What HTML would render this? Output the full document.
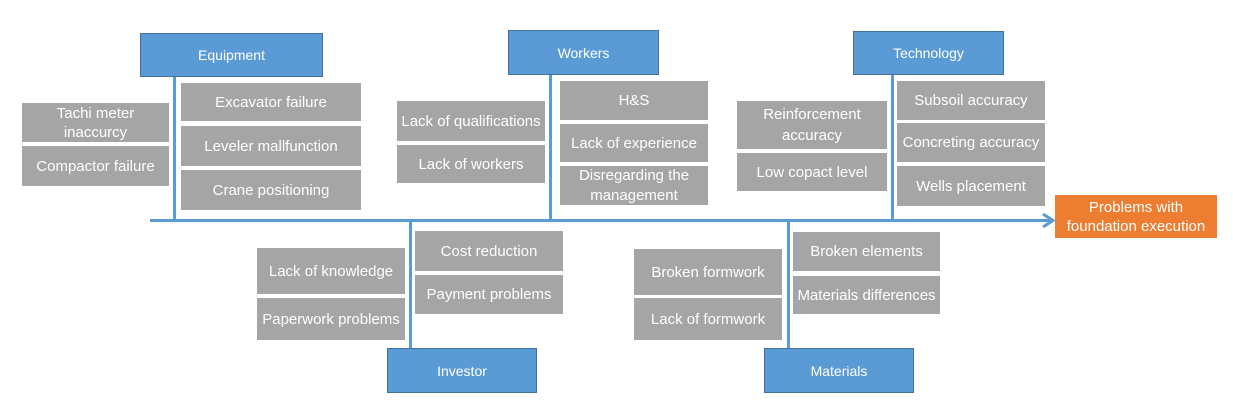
<!DOCTYPE html>
<html><head><meta charset="utf-8"><style>
body{margin:0;background:#fff;width:1233px;height:411px;position:relative;overflow:hidden;font-family:"Liberation Sans",sans-serif}
.b{position:absolute;background:#5b9bd5;border:1px solid #41719c;color:#fff;font-size:14px;display:flex;align-items:center;justify-content:center;box-sizing:border-box}
.g{position:absolute;background:#a5a5a5;color:#fff;font-size:15px;display:flex;align-items:center;justify-content:center;text-align:center;line-height:21px;box-sizing:border-box;white-space:nowrap;overflow:hidden}
.v{position:absolute;width:3px;background:#5b9bd5}
</style></head><body>
<div style="position:absolute;left:150px;top:219px;width:900px;height:3px;background:#5b9bd5"></div>
<svg style="position:absolute;left:1040px;top:212px" width="16" height="17"><polyline points="3,2 13,8.5 3,15" fill="none" stroke="#5b9bd5" stroke-width="3"/></svg>
<div class="v" style="left:173px;top:76px;height:145px"></div>
<div class="v" style="left:549px;top:75px;height:146px"></div>
<div class="v" style="left:891px;top:75px;height:146px"></div>
<div class="v" style="left:409px;top:220px;height:129px"></div>
<div class="v" style="left:787px;top:220px;height:129px"></div>

<div class="b" style="left:140px;top:33px;width:183px;height:44px">Equipment</div>
<div class="b" style="left:508px;top:30px;width:151px;height:45px">Workers</div>
<div class="b" style="left:853px;top:31px;width:151px;height:44px">Technology</div>
<div class="b" style="left:387px;top:348px;width:150px;height:45px">Investor</div>
<div class="b" style="left:764px;top:348px;width:150px;height:45px">Materials</div>
<div class="g" style="left:1055px;top:195px;width:162px;height:43px;background:#ed7d31;line-height:19px">Problems with<br>foundation execution</div>

<div class="g" style="left:22px;top:103px;width:147px;height:39px;line-height:19px">Tachi meter<br>inaccurcy</div>
<div class="g" style="left:22px;top:146px;width:147px;height:40px">Compactor failure</div>
<div class="g" style="left:181px;top:83px;width:180px;height:38px">Excavator failure</div>
<div class="g" style="left:181px;top:126px;width:180px;height:40px">Leveler mallfunction</div>
<div class="g" style="left:181px;top:170px;width:180px;height:40px">Crane positioning</div>

<div class="g" style="left:397px;top:101px;width:148px;height:40px">Lack of qualifications</div>
<div class="g" style="left:397px;top:145px;width:148px;height:38px">Lack of workers</div>
<div class="g" style="left:560px;top:81px;width:148px;height:39px">H&amp;S</div>
<div class="g" style="left:560px;top:124px;width:148px;height:38px">Lack of experience</div>
<div class="g" style="left:560px;top:166px;width:148px;height:39px;line-height:20px">Disregarding the<br>management</div>

<div class="g" style="left:737px;top:101px;width:150px;height:48px">Reinforcement<br>accuracy</div>
<div class="g" style="left:737px;top:153px;width:150px;height:38px">Low copact level</div>
<div class="g" style="left:897px;top:81px;width:148px;height:39px">Subsoil accuracy</div>
<div class="g" style="left:897px;top:123px;width:148px;height:39px">Concreting accuracy</div>
<div class="g" style="left:897px;top:166px;width:148px;height:40px">Wells placement</div>

<div class="g" style="left:257px;top:248px;width:148px;height:46px">Lack of knowledge</div>
<div class="g" style="left:257px;top:298px;width:148px;height:42px">Paperwork problems</div>
<div class="g" style="left:415px;top:231px;width:148px;height:40px">Cost reduction</div>
<div class="g" style="left:415px;top:275px;width:148px;height:39px">Payment problems</div>

<div class="g" style="left:634px;top:249px;width:148px;height:46px">Broken formwork</div>
<div class="g" style="left:634px;top:298px;width:148px;height:42px">Lack of formwork</div>
<div class="g" style="left:793px;top:232px;width:147px;height:39px">Broken elements</div>
<div class="g" style="left:793px;top:276px;width:147px;height:38px">Materials differences</div>
</body></html>
